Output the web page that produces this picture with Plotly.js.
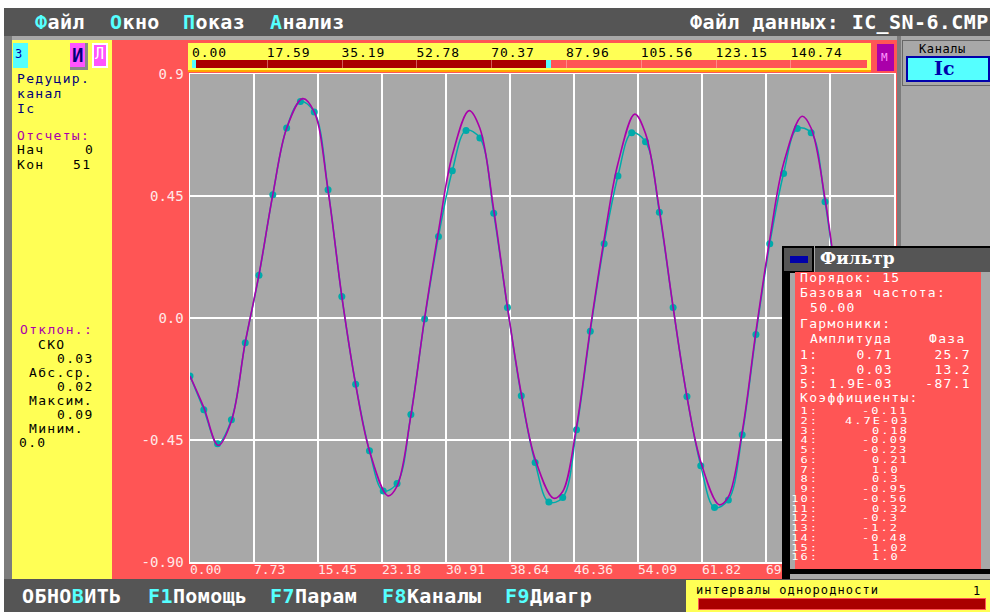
<!DOCTYPE html>
<html><head><meta charset="utf-8">
<script src="https://cdn.plot.ly/plotly-3.0.1.min.js"></script>
<style>
*{box-sizing:border-box;}
body{margin:0;width:990px;height:612px;background:#ffffff;overflow:hidden;position:relative;font-family:"DejaVu Sans Mono",monospace;}
.b{position:absolute;}
.t{position:absolute;white-space:pre;line-height:1;}
.big{font-size:20px;color:#ffffff;letter-spacing:0.4px;font-weight:bold;}
.sm{font-size:13px;letter-spacing:1.3px;}
.cf{font-size:12px;letter-spacing:2px;}
.c{color:#55ffff;}
.w{color:#ffffff;}
.sq{transform:scaleY(0.72);transform-origin:0 0;}
.sqr{transform:scaleY(0.72);transform-origin:100% 0;}
</style></head><body>
<!-- frame -->
<div class="b" style="left:4px;top:8px;width:986px;height:604px;background:#a8a8a8;"></div>
<div class="b" style="left:4px;top:36px;width:8px;height:543px;background:#7c7c7c;"></div>
<div class="b" style="left:897px;top:36px;width:4px;height:543px;background:#7c7c7c;"></div>
<!-- menu bar -->
<div class="b" style="left:4px;top:8px;width:986px;height:28px;background:#555555;"></div>
<div class="t big" style="left:35px;top:12px;"><span class="c">Ф</span>айл</div>
<div class="t big" style="left:110px;top:12px;"><span class="c">О</span>кно</div>
<div class="t big" style="left:183px;top:12px;"><span class="c">П</span>оказ</div>
<div class="t big" style="left:270px;top:12px;"><span class="c">А</span>нализ</div>
<div class="t big" style="left:690px;top:12px;">Файл данных: IC_SN-6.CMP</div>

<!-- left yellow panel -->
<div class="b" style="left:12px;top:40px;width:101px;height:539px;background:#ffff55;"></div>
<div class="b" style="left:13px;top:43px;width:15px;height:25px;background:#55ffff;"></div>
<div class="t" style="left:15px;top:48px;font-size:12px;color:#0000aa;">3</div>
<div class="b" style="left:70px;top:43px;width:18px;height:27px;background:#ff55ff;border-right:3px solid #888;border-bottom:3px solid #888;"></div>
<div class="t" style="left:72px;top:46px;font-size:19px;font-weight:bold;color:#00007a;">И</div>
<div class="b" style="left:92px;top:43px;width:16px;height:25px;background:#ff55ff;border:2px solid #ffffff;"></div>
<div class="t" style="left:95px;top:47px;font-size:15px;color:#ffffff;">Л</div>

<div class="t sm" style="left:17px;top:72px;color:#00007a;">Редуцир.</div>
<div class="t sm" style="left:17px;top:87px;color:#00007a;">канал</div>
<div class="t sm" style="left:17px;top:102px;color:#00007a;">Ic</div>
<div class="t sm" style="left:17px;top:129px;color:#aa00aa;">Отсчеты:</div>
<div class="t sm" style="left:17px;top:143px;color:#000;">Нач</div>
<div class="t sm" style="left:85px;top:143px;color:#000;">0</div>
<div class="t sm" style="left:17px;top:158px;color:#000;">Кон</div>
<div class="t sm" style="left:73px;top:158px;color:#000;">51</div>
<div class="t sm" style="left:20px;top:323px;color:#aa00aa;">Отклон.:</div>
<div class="t sm" style="left:38px;top:338px;color:#000;">СКО</div>
<div class="t sm" style="left:57px;top:352px;color:#000;">0.03</div>
<div class="t sm" style="left:29px;top:366px;color:#000;">Абс.ср.</div>
<div class="t sm" style="left:57px;top:380px;color:#000;">0.02</div>
<div class="t sm" style="left:29px;top:394px;color:#000;">Максим.</div>
<div class="t sm" style="left:57px;top:408px;color:#000;">0.09</div>
<div class="t sm" style="left:29px;top:422px;color:#000;">Миним.</div>
<div class="t sm" style="left:19px;top:436px;color:#000;">0.0</div>

<!-- plot -->
<div id="plot" class="b" style="left:112px;top:40px;width:785px;height:539px;"></div>

<!-- top overview scale -->
<div id="scale" class="b" style="left:188px;top:43px;width:683px;height:29px;background:#ffff55;border-bottom:2px solid #ffaa00;"></div>
<div class="b" style="left:877px;top:44px;width:17px;height:27px;background:#aa00aa;"></div>
<div class="t" style="left:881px;top:52px;font-size:11px;color:#ff99ff;">М</div>

<!-- channels panel -->
<div class="b" style="left:902px;top:40px;width:88px;height:46px;background:#a8a8a8;border:1px solid #666;border-right:none;"></div>
<div class="t" style="left:919px;top:43px;font-size:12px;color:#000;letter-spacing:0.6px;">Каналы</div>
<div class="b" style="left:906px;top:56px;width:84px;height:26px;background:#55ffff;border:2px solid #0000aa;"></div>
<div class="t" style="left:934px;top:59px;font-size:19px;font-weight:bold;font-family:'DejaVu Serif',serif;color:#0000aa;">Ic</div>

<!-- bottom bar -->
<div class="b" style="left:4px;top:579px;width:986px;height:33px;background:#555555;"></div>
<div class="t big" style="left:22px;top:586px;">ОБНО<span class="c">В</span>ИТЬ</div>
<div class="t big" style="left:148px;top:586px;"><span class="c">F1</span>Помощь</div>
<div class="t big" style="left:270px;top:586px;"><span class="c">F7</span>Парам</div>
<div class="t big" style="left:382px;top:586px;"><span class="c">F8</span>Каналы</div>
<div class="t big" style="left:505px;top:586px;"><span class="c">F9</span>Диагр</div>
<div class="b" style="left:686px;top:580px;width:304px;height:32px;background:#ffff55;"></div>
<div class="t" style="left:696px;top:584px;font-size:12px;letter-spacing:1.1px;color:#000;">интервалы однородности</div>
<div class="t" style="left:973px;top:585px;font-size:12px;color:#000;">1</div>
<div class="b" style="left:698px;top:598px;width:288px;height:12px;background:#aa0000;border:1px solid #ff5555;"></div>

<!-- filter window -->
<div class="b" style="left:782px;top:246px;width:208px;height:333px;background:#a8a8a8;"></div>
<div class="b" style="left:782px;top:272px;width:8px;height:307px;background:#000;"></div>
<div class="b" style="left:790px;top:569px;width:200px;height:5px;background:#000;"></div>
<div class="b" style="left:782px;top:246px;width:32px;height:27px;background:#555;border:2px solid #000;"></div>
<div class="b" style="left:790px;top:256px;width:18px;height:7px;background:#0000aa;"></div>
<div class="b" style="left:815px;top:246px;width:175px;height:26px;background:#555;border-top:2px solid #000;"></div>
<div class="t" style="left:820px;top:250px;font-size:17px;font-weight:bold;font-family:'DejaVu Serif',serif;color:#fff;">Фильтр</div>
<div class="b" style="left:795px;top:272px;width:186px;height:297px;background:#ff5555;"></div>
<div id="ftext"></div>

<script>
// ---- chart data ----
const sampleTime = [0.00,1.67,3.33,5.00,6.67,8.33,10.00,11.67,13.33,15.00,16.67,18.33,20.00,21.67,23.33,25.00,26.67,28.33,30.00,31.67,33.33,35.00,36.67,38.33,40.00,41.67,43.33,45.00,46.67,48.33,50.00,51.67,53.33,55.00,56.67,58.33,60.00,61.67,63.33,65.00,66.67,68.33,70.00,71.67,73.33,75.00,76.67,78.33,80.00,81.67,83.33];
const sampleValue = [-0.214,-0.338,-0.464,-0.375,-0.091,0.158,0.455,0.701,0.799,0.760,0.473,0.079,-0.244,-0.490,-0.638,-0.610,-0.356,-0.004,0.301,0.543,0.692,0.664,0.386,0.039,-0.287,-0.533,-0.679,-0.662,-0.412,-0.049,0.274,0.524,0.683,0.650,0.390,0.039,-0.290,-0.545,-0.699,-0.671,-0.431,-0.061,0.274,0.533,0.699,0.683,0.429,0.060,-0.270,-0.520,-0.670];
const fitTime = [0.00,1.67,3.40,5.00,6.67,8.33,10.00,11.67,13.60,15.00,16.67,18.33,20.00,21.67,23.90,25.00,26.67,28.33,30.00,31.67,33.70,35.00,36.67,38.33,40.00,41.67,43.90,45.00,46.67,48.33,50.00,51.67,53.70,55.00,56.67,58.33,60.00,61.67,63.90,65.00,66.67,68.33,70.00,71.67,73.90,75.00,76.67,78.33,80.00,81.67,83.33];
const fitValue = [-0.214,-0.330,-0.470,-0.380,-0.090,0.160,0.455,0.700,0.809,0.760,0.470,0.080,-0.245,-0.490,-0.656,-0.620,-0.360,0.000,0.320,0.600,0.765,0.700,0.400,0.040,-0.280,-0.520,-0.665,-0.640,-0.400,-0.040,0.290,0.570,0.752,0.680,0.400,0.040,-0.290,-0.530,-0.689,-0.660,-0.420,-0.050,0.290,0.570,0.744,0.700,0.440,0.070,-0.270,-0.520,-0.670];
const xTickVals = [0,7.727,15.455,23.182,30.909,38.636,46.364,54.091,61.818,69.545,77.273,85.0];
const xTickText = ['0.00','7.73','15.45','23.18','30.91','38.64','46.36','54.09','61.82','69.55','77.27','85.00'];
const yTickVals = [0.9,0.45,0,-0.45,-0.9];
const yTickText = ['0.9','0.45','0.0','-0.45','-0.90'];
const overviewTicks = ['0.00','17.59','35.19','52.78','70.37','87.96','105.56','123.15','140.74'];
const harmonicNum = ['1:','3:','5:'];
const harmonicAmp = ['0.71','0.03','1.9E-03'];
const harmonicPhase = ['25.7','13.2','-87.1'];
const coefValues = ['-0.11','4.7E-03','0.18','-0.09','-0.23','0.21','1.0','0.3','-0.95','-0.56','0.32','-0.3','-1.2','-0.48','1.02','1.0'];

// ---- overview scale (UI chrome) ----
(function(){
  const x0 = 192, step = 74.8;
  let h = '';
  overviewTicks.forEach((s,i)=>{
    h += `<div class="t" style="left:${x0+i*step}px;top:46px;font-size:13px;letter-spacing:0.9px;color:#000;">${s}</div>`;
  });
  h += `<div class="b" style="left:192px;top:60px;width:675px;height:8px;background:#ff5555;"></div>`;
  h += `<div class="b" style="left:192px;top:60px;width:356px;height:8px;background:#aa0000;"></div>`;
  for(let i=1;i<9;i++) h += `<div class="b" style="left:${x0+i*step}px;top:60px;width:1px;height:8px;background:rgba(255,200,200,0.45);"></div>`;
  h += `<div class="b" style="left:192px;top:60px;width:4px;height:8px;background:#55ffff;"></div>`;
  h += `<div class="b" style="left:546px;top:60px;width:5px;height:8px;background:#55ffff;"></div>`;
  const d = document.createElement('div'); d.innerHTML = h; document.body.appendChild(d);
})();

// ---- filter window text ----
(function(){
  const T = (x,y,s,extra)=>`<div class="t sm w" style="left:${x}px;top:${y}px;${extra||''}">${s}</div>`;
  let h = '';
  h += T(800,271,'Порядок: 15');
  h += T(800,286,'Базовая частота:');
  h += T(810,301,'50.00');
  h += T(800,317,'Гармоники:');
  h += T(810,332,'Амплитуда');
  h += T(929,332,'Фаза');
  harmonicNum.forEach((n,i)=>{
    const y = 348 + i*14.7;
    h += T(800,y,n);
    h += `<div class="t sm w" style="right:${990-893}px;top:${y}px;">${harmonicAmp[i]}</div>`;
    h += `<div class="t sm w" style="right:${990-971}px;top:${y}px;">${harmonicPhase[i]}</div>`;
  });
  h += T(800,391,'Коэффициенты:');
  coefValues.forEach((v,i)=>{
    const y = 407.2 + i*9.75;
    h += `<div class="t cf w sqr" style="right:${990-819}px;top:${y}px;">${i+1}:</div>`;
    const left = v.length>5 ? 845 : (v[0]==='-' ? 862 : 872);
    h += `<div class="t cf w sq" style="left:${left}px;top:${y}px;">${v}</div>`;
  });
  document.getElementById('ftext').innerHTML = h;
})();

// ---- plot ----
const tickFont = {family:'DejaVu Sans Mono', size:14, color:'#ffe8e8'};
const xLabFont = {family:'DejaVu Sans Mono', size:13, color:'#ffe8e8'};
// the last tick label (85.00) lies under the filter window in the reference, so it is not drawn
const shownXLabels = xTickText.slice(0, 11);
Plotly.newPlot('plot', [
  {x: sampleTime, y: sampleValue, type:'scatter', mode:'lines+markers',
   line:{color:'#00aaaa', width:1.5, shape:'spline', smoothing:1},
   marker:{color:'#00aaaa', size:7}},
  {x: fitTime, y: fitValue, type:'scatter', mode:'lines',
   line:{color:'#aa00aa', width:1.6, shape:'spline', smoothing:1}}
], {
  width:785, height:539,
  margin:{l:78, r:3, t:34, b:17, pad:0},
  paper_bgcolor:'#ff5555', plot_bgcolor:'#a8a8a8',
  showlegend:false,
  xaxis:{range:[0,85], tickvals:xTickVals, showticklabels:false, ticks:'',
         showgrid:true, gridcolor:'#ffffff', gridwidth:1.5, zeroline:false,
         showline:true, linecolor:'#ffffff', linewidth:1.5, mirror:true},
  yaxis:{range:[-0.9,0.9], tickvals:yTickVals, ticktext:yTickText, ticks:'',
         tickfont:tickFont, ticklabelstandoff:2,
         showgrid:true, gridcolor:'#ffffff', gridwidth:1.5, zeroline:false,
         showline:true, linecolor:'#ffffff', linewidth:1.5, mirror:true},
  annotations: shownXLabels.map((s,i)=>({x:xTickVals[i], y:0, xref:'x', yref:'paper',
    xanchor:'left', yanchor:'top', text:s, showarrow:false, font:xLabFont,
    borderpad:0, xshift:-1, yshift:1}))
}, {staticPlot:true, displayModeBar:false});
</script>
</body></html>
